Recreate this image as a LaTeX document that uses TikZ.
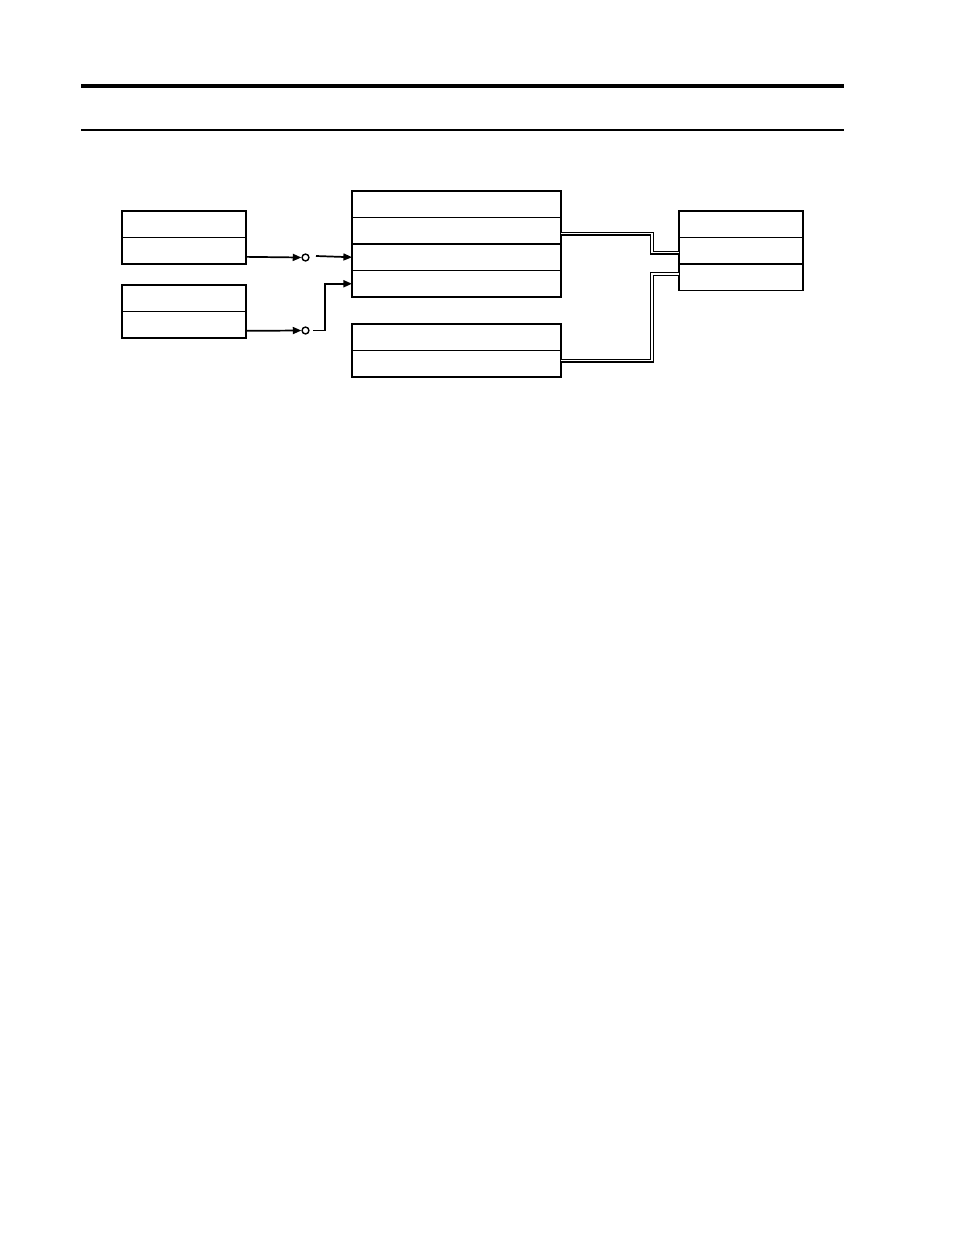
\documentclass[tikz,border=0pt]{standalone}
\usetikzlibrary{positioning,arrows.meta}
\begin{document}
\begin{tikzpicture}[x=0.64pt,y=-0.64pt,
  row/.style={draw,line width=0.8pt,rectangle,inner sep=0pt,outer sep=0pt,
    minimum height=16.96pt,anchor=north west},
  narrow/.style={row,minimum width=79.4pt},
  wide/.style={row,minimum width=133.8pt},
  switch/.style={draw,circle,line width=0.9pt,inner sep=0pt,minimum size=4.4pt},
  arrow/.style={line width=1.1pt,-{Triangle[length=5.5pt,width=4.5pt]}},
  bus/.style={double,line width=0.85pt,double distance=0.9pt}]
  \useasboundingbox (0,0) rectangle (954,1235);
  % rules
  \draw[line width=2pt] (81,86) -- (844,86);
  \draw[line width=0.9pt] (81,130) -- (844,130);
  % left boxes
  \node[narrow] (a1) at (122,211) {};
  \node[narrow,below=0pt of a1] (a2) {};
  \node[narrow] (b1) at (122,285) {};
  \node[narrow,below=0pt of b1] (b2) {};
  % middle boxes
  \node[wide] (c1) at (352,191) {};
  \node[wide,below=0pt of c1] (c2) {};
  \node[wide,below=0pt of c2] (c3) {};
  \node[wide,below=0pt of c3] (c4) {};
  \node[wide] (d1) at (352,324) {};
  \node[wide,below=0pt of d1] (d2) {};
  % right box
  \node[narrow] (e1) at (679,211) {};
  \node[narrow,below=0pt of e1] (e2) {};
  \node[narrow,below=0pt of e2] (e3) {};
  % switches
  \node[switch] (s1) at (305.5,257.5) {};
  \node[switch] (s2) at (305.5,330.5) {};
  \coordinate (t1) at (316,256);
  \coordinate (t2) at (313,330.5);
  % connectors
  \draw[arrow] ([yshift=-3.9pt]a2.east) -- (s1.west);
  \draw[arrow] (t1) -- (c3.west);
  \draw[arrow] ([yshift=-3.9pt]b2.east) -- (s2.west);
  \draw[arrow] (t2) -- ++(12,0) |- (c4.west);
  \draw[bus] ([yshift=-1.9pt]c2.east) -| ([xshift=-17.3pt,yshift=-1.3pt]e2.west)
    -- ([yshift=-1.3pt]e2.west);
  \draw[bus] ([yshift=1.9pt]d2.east) -| ([xshift=-17.3pt,yshift=2.2pt]e3.west)
    -- ([yshift=2.2pt]e3.west);
\end{tikzpicture}
\end{document}
